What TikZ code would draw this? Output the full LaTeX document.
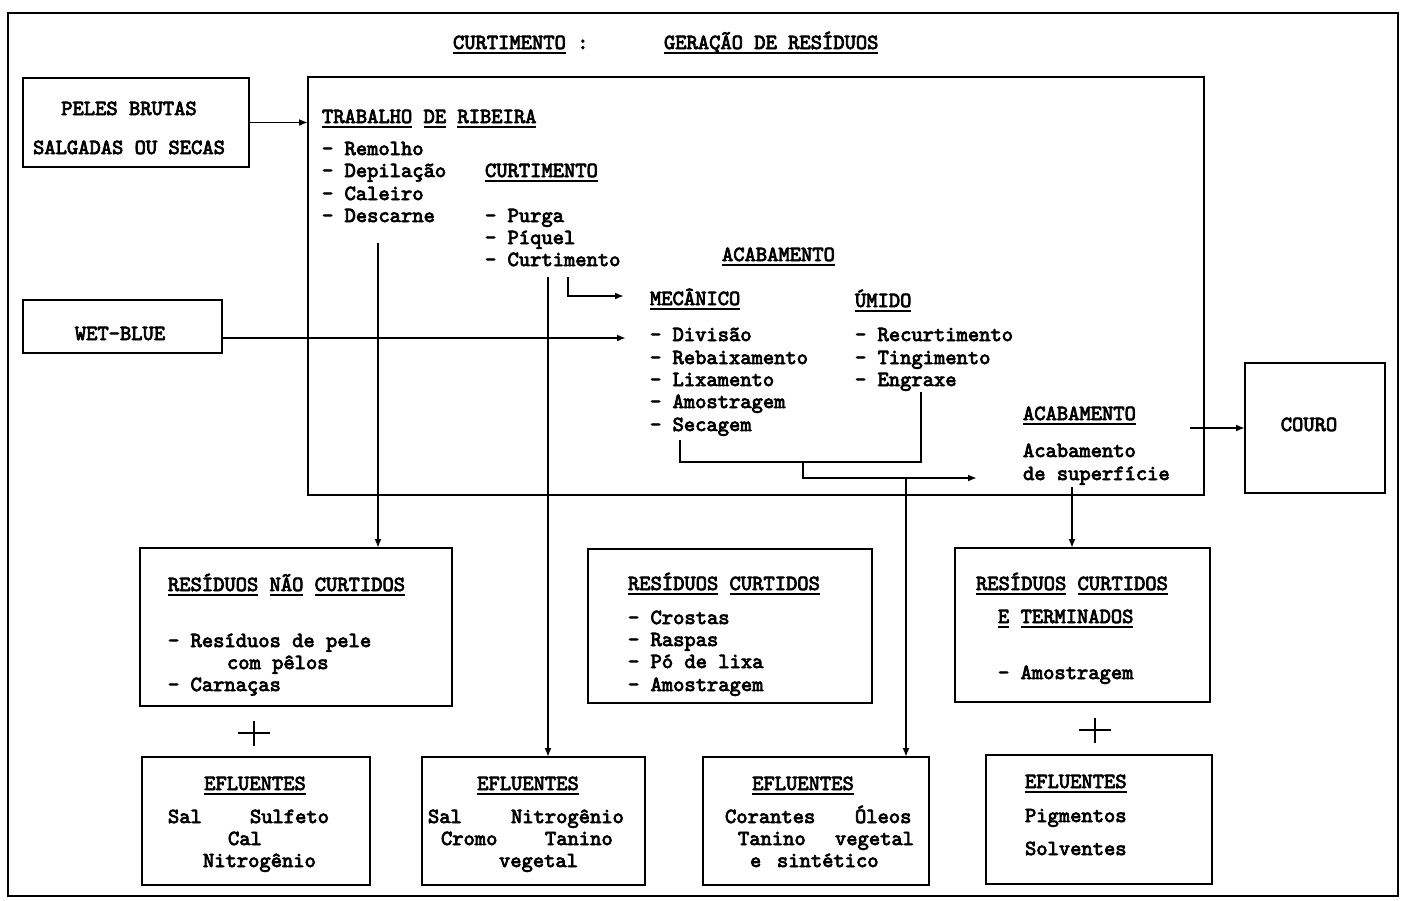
\documentclass[tikz,border=0pt]{standalone}
\usepackage{fontspec}
\newfontfamily\tw{lmmono10-regular.otf}[FakeBold=3.5]
\usetikzlibrary{arrows.meta}
\newcommand\uw[1]{\setbox0\hbox{#1}\rlap{\rule[-5pt]{\wd0}{1.6pt}}\box0\relax}
\tikzset{
  box/.style={draw, line width=1.8pt, rectangle, inner sep=0pt, outer sep=0pt},
  txt/.style={anchor=base west, inner sep=0pt, outer sep=0pt, font=\tw\fontsize{21.5}{22}\selectfont},
  ctxt/.style={txt, anchor=base},
  ln/.style={line width=1.8pt},
  arr/.style={line width=1.8pt, -{Latex[length=9pt,width=7pt]}}
}
\begin{document}
\begin{tikzpicture}[x=1pt,y=-1pt]
\useasboundingbox (0,0) rectangle (1414,900);
% outer frame
\draw[ln] (8,13) rectangle (1398,896);
% title
\node[txt] (t1) at (453,49) {\uw{CURTIMENTO} :};
\node[txt] (t2) at (664,49) {\uw{GERAÇÃO DE RESÍDUOS}};
% boxes
\node[box, minimum width=226, minimum height=89] (peles) at (136,122.5) {};
\node[box, minimum width=199, minimum height=53] (wetblue) at (122.5,326.5) {};
\node[box, minimum width=896, minimum height=418] (main) at (756,286) {};
\node[box, minimum width=140, minimum height=130] (couro) at (1315,428) {};
\node[box, minimum width=312, minimum height=158] (rnc) at (296,627) {};
\node[box, minimum width=284, minimum height=154] (rc) at (730,626) {};
\node[box, minimum width=255, minimum height=154] (rct) at (1082.5,625) {};
\node[box, minimum width=228, minimum height=128] (ef1) at (256,821) {};
\node[box, minimum width=223, minimum height=128] (ef2) at (533.5,821) {};
\node[box, minimum width=226, minimum height=128] (ef3) at (816,821) {};
\node[box, minimum width=226, minimum height=129] (ef4) at (1099,819.5) {};
% box texts
\node[ctxt] (p1) at (129,115) {PELES BRUTAS};
\node[ctxt] (p2) at (129,154) {SALGADAS OU SECAS};
\node[ctxt] (wb) at (120,340) {WET-BLUE};
\node[ctxt] (co) at (1309,431) {COURO};
% main box contents
\node[txt] (tr) at (322,123) {\uw{TRABALHO} \uw{DE} \uw{RIBEIRA}};
\node[txt] (tr1) at (322,155) {- Remolho};
\node[txt] (tr2) at (322,177) {- Depilação};
\node[txt] (tr3) at (322,200) {- Caleiro};
\node[txt] (tr4) at (322,222) {- Descarne};
\node[txt] (cu) at (485,177) {\uw{CURTIMENTO}};
\node[txt] (cu1) at (485,222) {- Purga};
\node[txt] (cu2) at (485,244) {- Píquel};
\node[txt] (cu3) at (485,266) {- Curtimento};
\node[txt] (ac) at (722,261) {\uw{ACABAMENTO}};
\node[txt] (me) at (650,305) {\uw{MECÂNICO}};
\node[txt] (um) at (855,307) {\uw{ÚMIDO}};
\node[txt] (me1) at (650,341) {- Divisão};
\node[txt] (me2) at (650,364) {- Rebaixamento};
\node[txt] (me3) at (650,386) {- Lixamento};
\node[txt] (me4) at (650,408) {- Amostragem};
\node[txt] (me5) at (650,431) {- Secagem};
\node[txt] (um1) at (855,341) {- Recurtimento};
\node[txt] (um2) at (855,364) {- Tingimento};
\node[txt] (um3) at (855,386) {- Engraxe};
\node[txt] (ac2) at (1023,420) {\uw{ACABAMENTO}};
\node[txt] (ac3) at (1023,457) {Acabamento};
\node[txt] (ac4) at (1023,480) {de superfície};
% residue boxes
\node[txt] (rn) at (168,591) {\uw{RESÍDUOS} \uw{NÃO} \uw{CURTIDOS}};
\node[txt] (rn1) at (168,647) {- Resíduos de pele};
\node[txt] (rn2) at (227,669) {com pêlos};
\node[txt] (rn3) at (168,691) {- Carnaças};
\node[txt] (rc0) at (628,590) {\uw{RESÍDUOS} \uw{CURTIDOS}};
\node[txt] (rc1) at (628,624) {- Crostas};
\node[txt] (rc2) at (628,646) {- Raspas};
\node[txt] (rc3) at (628,668) {- Pó de lixa};
\node[txt] (rc4) at (628,691) {- Amostragem};
\node[txt] (rt0) at (976,590) {\uw{RESÍDUOS} \uw{CURTIDOS}};
\node[txt] (rt1) at (998,623) {\uw{E} \uw{TERMINADOS}};
\node[txt] (rt2) at (998,679) {- Amostragem};
% effluents
\node[ctxt] (e1) at (255,790) {\uw{EFLUENTES}};
\node[txt] (e1a) at (168,823) {Sal};
\node[txt] (e1b) at (250,823) {Sulfeto};
\node[txt] (e1c) at (228,845) {Cal};
\node[txt] (e1d) at (203,867) {Nitrogênio};
\node[ctxt] (e2) at (528,790) {\uw{EFLUENTES}};
\node[txt] (e2a) at (428,823) {Sal};
\node[txt] (e2b) at (511,823) {Nitrogênio};
\node[txt] (e2c) at (441,845) {Cromo};
\node[txt] (e2d) at (545,845) {Tanino};
\node[txt] (e2e) at (499,867) {vegetal};
\node[ctxt] (e3) at (803,790) {\uw{EFLUENTES}};
\node[txt] (e3a) at (725,823) {Corantes};
\node[txt] (e3b) at (855,823) {Óleos};
\node[txt] (e3c) at (738,845) {Tanino};
\node[txt] (e3d) at (835,845) {vegetal};
\node[txt] (e3e) at (750,867) {e};
\node[txt] (e3f) at (777,867) {sintético};
\node[txt] (e4) at (1025,788) {\uw{EFLUENTES}};
\node[txt] (e4a) at (1025,822) {Pigmentos};
\node[txt] (e4b) at (1025,855) {Solventes};
% plus signs
\draw[ln] (238,733) -- (270,733) (254,721) -- (254,746);
\draw[ln] (1079,730) -- (1111,730) (1095,718) -- (1095,743);
% connectors
\draw[arr] (peles.east) -- (peles.east -| main.west);
\coordinate (wbE) at (626,338);
\draw[arr] (wetblue.east |- wbE) -- (wbE);
\coordinate (dS) at (378,243);
\draw[arr] (dS) -- (dS |- rnc.north);
\coordinate (cS) at (548,277);
\draw[arr] (cS) -- (cS |- ef2.north);
\coordinate (bS) at (568,277);
\coordinate (bE) at (624,296);
\draw[arr] (bS) |- (bE);
\coordinate (brL) at (680,440);
\coordinate (brR) at (921,392);
\draw[ln] (brL) -- ++(0,22) -| (brR);
\coordinate (brM) at (803,462);
\coordinate (acE) at (977,478);
\draw[arr] (brM) |- (acE);
\coordinate (e3S) at (906,478);
\draw[arr] (e3S) -- (e3S |- ef3.north);
\coordinate (coS) at (1190,428);
\draw[arr] (coS) -- (couro.west);
\coordinate (rtS) at (1072,487);
\draw[arr] (rtS) -- (rtS |- rct.north);
\end{tikzpicture}
\end{document}
